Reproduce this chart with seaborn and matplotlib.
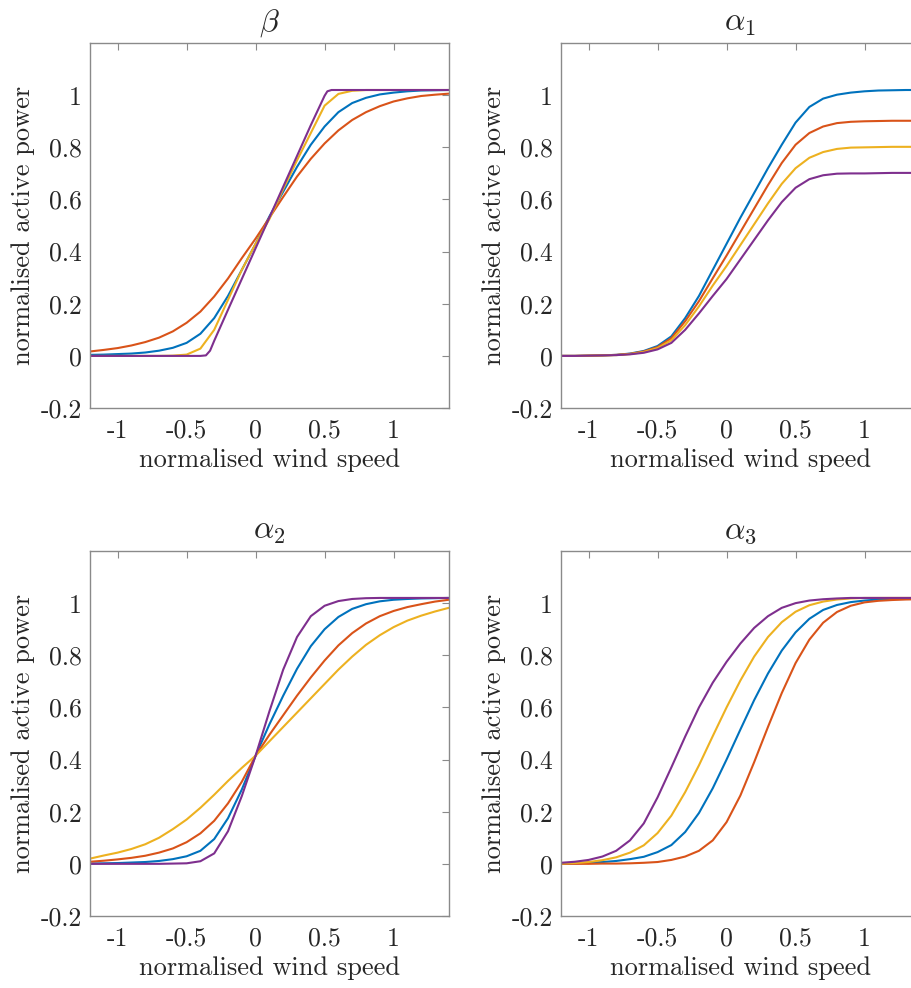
import pandas as pd
import matplotlib.pyplot as plt
import seaborn as sns

# 读数 (从图中估计), x = normalised wind speed
wind = [-1.2, -1.1, -1.0, -0.9, -0.8, -0.7, -0.6, -0.5, -0.4, -0.3, -0.2, -0.1, 0.0,
        0.1, 0.2, 0.3, 0.4, 0.5, 0.6, 0.7, 0.8, 0.9, 1.0, 1.1, 1.2, 1.3, 1.4]

# panel beta
beta_blue = [0.004, 0.005, 0.007, 0.009, 0.013, 0.020, 0.031, 0.050, 0.085, 0.145, 0.230, 0.330, 0.430,
             0.535, 0.630, 0.725, 0.810, 0.880, 0.935, 0.970, 0.990, 1.003, 1.010, 1.015, 1.018, 1.019, 1.020]
beta_red = [0.017, 0.023, 0.030, 0.040, 0.053, 0.070, 0.094, 0.127, 0.170, 0.228, 0.297, 0.375, 0.450,
            0.530, 0.610, 0.688, 0.756, 0.815, 0.865, 0.905, 0.935, 0.958, 0.976, 0.988, 0.997, 1.002, 1.006]
beta_yellow = [0.0, 0.0, 0.0, 0.0, 0.0, 0.0, 0.001, 0.005, 0.028, 0.100, 0.215, 0.330, 0.430,
               0.525, 0.640, 0.750, 0.855, 0.960, 1.005, 1.017, 1.020, 1.020, 1.020, 1.020, 1.020, 1.020, 1.020]
# purple has sharp corners, so it gets its own sample points
beta_purple_x = [-1.2, -0.8, -0.4, -0.36, -0.33, -0.3, -0.2, -0.1, 0.0, 0.1, 0.2, 0.3, 0.4, 0.5,
                 0.52, 0.55, 0.8, 1.1, 1.4]
beta_purple = [0.0, 0.0, 0.0, 0.002, 0.020, 0.058, 0.177, 0.295, 0.413, 0.531, 0.649, 0.767, 0.885, 0.998,
               1.015, 1.020, 1.020, 1.020, 1.020]

# panel alpha_1
a1_blue = [0.0, 0.0, 0.001, 0.002, 0.004, 0.009, 0.019, 0.038, 0.075, 0.145, 0.230, 0.330, 0.430,
           0.530, 0.625, 0.720, 0.810, 0.895, 0.955, 0.987, 1.002, 1.010, 1.015, 1.018, 1.019, 1.020, 1.020]
a1_red = [0.0, 0.0, 0.001, 0.002, 0.004, 0.008, 0.017, 0.034, 0.068, 0.133, 0.210, 0.298, 0.385,
          0.475, 0.565, 0.655, 0.740, 0.810, 0.855, 0.880, 0.893, 0.898, 0.900, 0.901, 0.902, 0.902, 0.902]
a1_yellow = [0.0, 0.0, 0.001, 0.002, 0.003, 0.007, 0.015, 0.030, 0.060, 0.118, 0.190, 0.270, 0.345,
             0.425, 0.505, 0.585, 0.660, 0.720, 0.760, 0.782, 0.794, 0.799, 0.800, 0.801, 0.802, 0.802, 0.802]
a1_purple = [0.0, 0.0, 0.001, 0.002, 0.003, 0.006, 0.012, 0.025, 0.050, 0.100, 0.163, 0.230, 0.295,
             0.370, 0.445, 0.520, 0.590, 0.645, 0.678, 0.693, 0.699, 0.700, 0.700, 0.701, 0.702, 0.702, 0.702]

# panel alpha_2
a2_blue = [0.001, 0.002, 0.003, 0.005, 0.007, 0.011, 0.018, 0.029, 0.050, 0.095, 0.175, 0.285, 0.415,
           0.535, 0.645, 0.748, 0.835, 0.900, 0.947, 0.978, 0.996, 1.007, 1.013, 1.016, 1.018, 1.019, 1.020]
a2_red = [0.008, 0.012, 0.017, 0.023, 0.031, 0.043, 0.059, 0.083, 0.117, 0.165, 0.232, 0.315, 0.415,
          0.495, 0.570, 0.645, 0.715, 0.780, 0.838, 0.885, 0.922, 0.950, 0.970, 0.985, 0.996, 1.006, 1.013]
a2_yellow = [0.020, 0.032, 0.043, 0.057, 0.075, 0.100, 0.133, 0.170, 0.215, 0.265, 0.318, 0.368, 0.415,
             0.470, 0.525, 0.580, 0.635, 0.690, 0.745, 0.795, 0.840, 0.877, 0.908, 0.933, 0.952, 0.968, 0.982]
a2_purple = [0.0, 0.0, 0.0, 0.0, 0.0, 0.0, 0.001, 0.002, 0.010, 0.040, 0.125, 0.260, 0.415,
             0.585, 0.745, 0.870, 0.950, 0.990, 1.008, 1.016, 1.019, 1.020, 1.020, 1.020, 1.020, 1.020, 1.020]

# panel alpha_3
a3_blue = [0.0, 0.002, 0.004, 0.007, 0.011, 0.018, 0.027, 0.045, 0.072, 0.122, 0.195, 0.290, 0.400,
           0.515, 0.628, 0.730, 0.818, 0.888, 0.940, 0.974, 0.993, 1.004, 1.010, 1.014, 1.017, 1.019, 1.020]
a3_red = [0.0, 0.0, 0.0, 0.001, 0.001, 0.002, 0.004, 0.007, 0.015, 0.028, 0.050, 0.090, 0.160,
          0.262, 0.390, 0.525, 0.655, 0.770, 0.860, 0.925, 0.966, 0.990, 1.003, 1.009, 1.012, 1.014, 1.015]
a3_yellow = [0.001, 0.003, 0.007, 0.014, 0.025, 0.043, 0.071, 0.118, 0.185, 0.275, 0.378, 0.490, 0.600,
             0.703, 0.795, 0.870, 0.927, 0.967, 0.992, 1.006, 1.014, 1.018, 1.020, 1.020, 1.020, 1.020, 1.020]
a3_purple = [0.004, 0.008, 0.015, 0.028, 0.050, 0.090, 0.155, 0.255, 0.370, 0.488, 0.600, 0.695, 0.775,
             0.845, 0.905, 0.950, 0.982, 1.000, 1.010, 1.015, 1.018, 1.020, 1.020, 1.020, 1.020, 1.020, 1.020]

titles = [r'$\beta$', r'$\alpha_1$', r'$\alpha_2$', r'$\alpha_3$']
curve_names = ['c1', 'c2', 'c3', 'c4']
colors = ['#0072BD', '#D95319', '#EDB120', '#7E2F8E']
xticks = [-1, -0.5, 0, 0.5, 1]
xticklabels = ['-1', '-0.5', '0', '0.5', '1']
yticks = [-0.2, 0, 0.2, 0.4, 0.6, 0.8, 1]
yticklabels = ['-0.2', '0', '0.2', '0.4', '0.6', '0.8', '1']

panels = [
    [(wind, beta_blue), (wind, beta_red), (wind, beta_yellow), (beta_purple_x, beta_purple)],
    [(wind, a1_blue), (wind, a1_red), (wind, a1_yellow), (wind, a1_purple)],
    [(wind, a2_blue), (wind, a2_red), (wind, a2_yellow), (wind, a2_purple)],
    [(wind, a3_blue), (wind, a3_red), (wind, a3_yellow), (wind, a3_purple)],
]

sns.set_style("white")
plt.rcParams['font.family'] = 'serif'
plt.rcParams['font.serif'] = ['cmr10', 'DejaVu Serif']
plt.rcParams['mathtext.fontset'] = 'cm'
plt.rcParams['axes.unicode_minus'] = False
plt.rcParams['axes.formatter.use_mathtext'] = True

fig = plt.figure(figsize=(9.12, 9.88), dpi=100)
# 轴的位置 (右侧两幅图在原图中被裁掉了一点)
positions = [
    [0.0987, 0.5870, 0.3934, 0.3694],
    [0.6151, 0.5870, 0.3934, 0.3694],
    [0.0987, 0.0729, 0.3934, 0.3694],
    [0.6151, 0.0729, 0.3934, 0.3694],
]

spine_col = '#8a8a8a'
text_col = '#262626'

for pos, title, curves in zip(positions, titles, panels):
    ax = fig.add_axes(pos)
    rows = []
    for name, (xs, ys) in zip(curve_names, curves):
        for xv, yv in zip(xs, ys):
            rows.append({'wind': xv, 'power': yv, 'curve': name})
    df = pd.DataFrame(rows)
    sns.lineplot(data=df, x='wind', y='power', hue='curve', hue_order=curve_names,
                 palette=colors, linewidth=1.5, legend=False, ax=ax, estimator=None)

    ax.set_xlim(-1.2, 1.4)
    ax.set_ylim(-0.2, 1.2)
    ax.set_xticks(xticks)
    ax.set_xticklabels(xticklabels)
    ax.set_yticks(yticks)
    ax.set_yticklabels(yticklabels)
    ax.tick_params(direction='in', length=5, width=0.8, color=spine_col,
                   labelsize=18.5, labelcolor=text_col, top=True, right=True)
    ax.tick_params(axis='x', pad=8)
    ax.tick_params(axis='y', pad=6)
    for s in ax.spines.values():
        s.set_color(spine_col)
        s.set_linewidth(1.0)
    ax.set_xlabel('normalised wind speed', fontsize=19, color=text_col, labelpad=4)
    ax.set_ylabel('normalised active power', fontsize=19, color=text_col, labelpad=4)
    ax.set_title(title, fontsize=23, color=text_col, pad=9)

plt.savefig('out.png', dpi=100)
